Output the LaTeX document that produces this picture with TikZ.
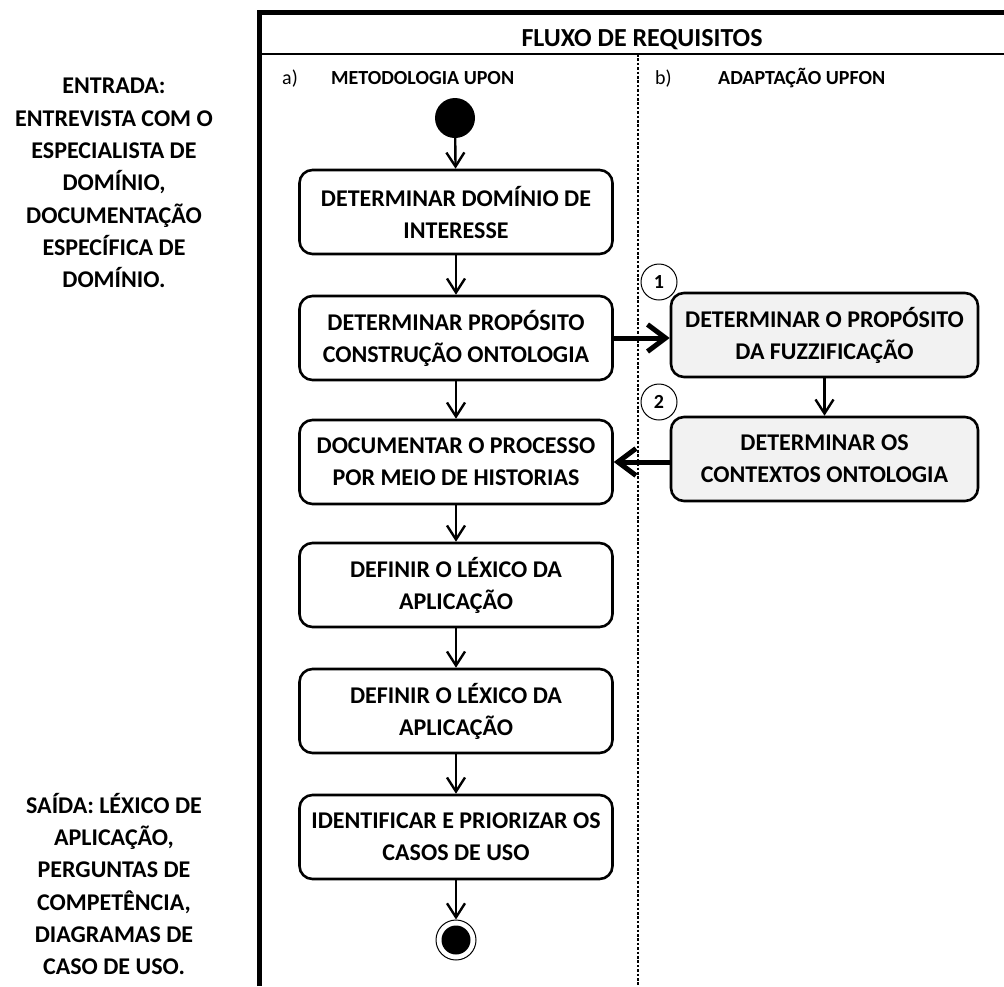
\documentclass[tikz,border=0pt]{standalone}
\usepackage{fontspec}
\setmainfont{Carlito}
\usetikzlibrary{arrows.meta}
\definecolor{fuzzgray}{HTML}{F2F2F2}
\begin{document}
\begin{tikzpicture}[x=1pt,y=-1pt,
  txt/.style={font=\bfseries\fontsize{24}{32}\selectfont, align=center, inner sep=0pt},
  side/.style={font=\bfseries\fontsize{24}{32.3}\selectfont, align=center, inner sep=0pt},
  act/.style={txt, draw, line width=2.6pt, rounded corners=13pt,
    minimum width=313pt, minimum height=84pt, fill=white},
  fz/.style={act, fill=fuzzgray, minimum width=307pt},
  flow/.style={line width=2.4pt,
    -{Straight Barb[length=14pt,width=18pt,line width=2.4pt]}},
  boldflow/.style={line width=5pt,
    -{Straight Barb[length=18pt,width=27pt,line width=5pt]}},
  num/.style={circle, draw, line width=1pt, minimum size=36pt, inner sep=0pt,
    font=\bfseries\fontsize{20}{24}\selectfont},
  lane/.style={font=\bfseries\fontsize{20}{24}\selectfont, anchor=base west, inner sep=0pt},
  tag/.style={font=\fontsize{20}{24}\selectfont, anchor=base west, inner sep=0pt}
]
\useasboundingbox (0,0) rectangle (1004,986);

% pool frame, title band and lane separator
\draw[line width=5pt] (259,986) -- (259,12) -- (1010,12);
\draw[line width=2pt] (259,54) -- (1010,54);
\draw[line width=2.6pt, dash pattern=on 2.6pt off 1.8pt] (638,54) -- (638,986);

\node[font=\bfseries\fontsize{26}{30}\selectfont, inner sep=0pt, anchor=base] (title) at (642,46) {FLUXO DE REQUISITOS};
\node[tag]  (taga)  at (282,84) {a)};
\node[lane] (lanea) at (331,84) {METODOLOGIA UPON};
\node[tag]  (tagb)  at (655,84) {b)};
\node[lane] (laneb) at (718,84) {ADAPTAÇÃO UPFON};

% inputs and outputs
\node[side] (entrada) at (114,183) {ENTRADA:\\ENTREVISTA COM O\\ESPECIALISTA DE\\DOMÍNIO,\\DOCUMENTAÇÃO\\ESPECÍFICA DE\\DOMÍNIO.};
\node[side] (saida) at (114,884) {SAÍDA: LÉXICO DE\\APLICAÇÃO,\\PERGUNTAS DE\\COMPETÊNCIA,\\DIAGRAMAS DE\\CASO DE USO.};

% UPON activities
\node[circle, fill=black, minimum size=40pt, inner sep=0pt] (start) at (455,118) {};
\node[act] (dom)  at (456,212) {DETERMINAR DOMÍNIO DE\\INTERESSE};
\node[act] (prop) at (456,338) {DETERMINAR PROPÓSITO\\CONSTRUÇÃO ONTOLOGIA};
\node[act] (doc)  at (456,462) {DOCUMENTAR O PROCESSO\\POR MEIO DE HISTORIAS};
\node[act] (lex1) at (456,585) {DEFINIR O LÉXICO DA\\APLICAÇÃO};
\node[act] (lex2) at (456,711) {DEFINIR O LÉXICO DA\\APLICAÇÃO};
\node[act] (uso)  at (456,837) {IDENTIFICAR E PRIORIZAR OS\\CASOS DE USO};
\node[circle, draw, line width=1pt, minimum size=40pt, inner sep=0pt] (final) at (456,940) {};
\node[circle, fill=black, minimum size=29pt, inner sep=0pt] (finaldot) at (final) {};

% UPFON adaptation
\node[fz] (fpurp) at (824.5,335) {DETERMINAR O PROPÓSITO\\DA FUZZIFICAÇÃO};
\node[fz] (fctx)  at (824.5,459) {DETERMINAR OS\\CONTEXTOS ONTOLOGIA};
\node[num] (n1) at (659,282) {1};
\node[num] (n2) at (659,402) {2};

% control flow
\draw[flow] (start) -- (dom);
\draw[flow] (dom) -- (prop);
\draw[flow] (prop) -- (doc);
\draw[flow] (doc) -- (lex1);
\draw[flow] (lex1) -- (lex2);
\draw[flow] (lex2) -- (uso);
\draw[flow] (uso) -- (final);
\draw[flow] (fpurp) -- (fctx);
\draw[boldflow] (prop.east) -- (prop.east -| fpurp.west);
\draw[boldflow] (fctx.west |- doc.east) -- (doc.east);
\end{tikzpicture}
\end{document}
